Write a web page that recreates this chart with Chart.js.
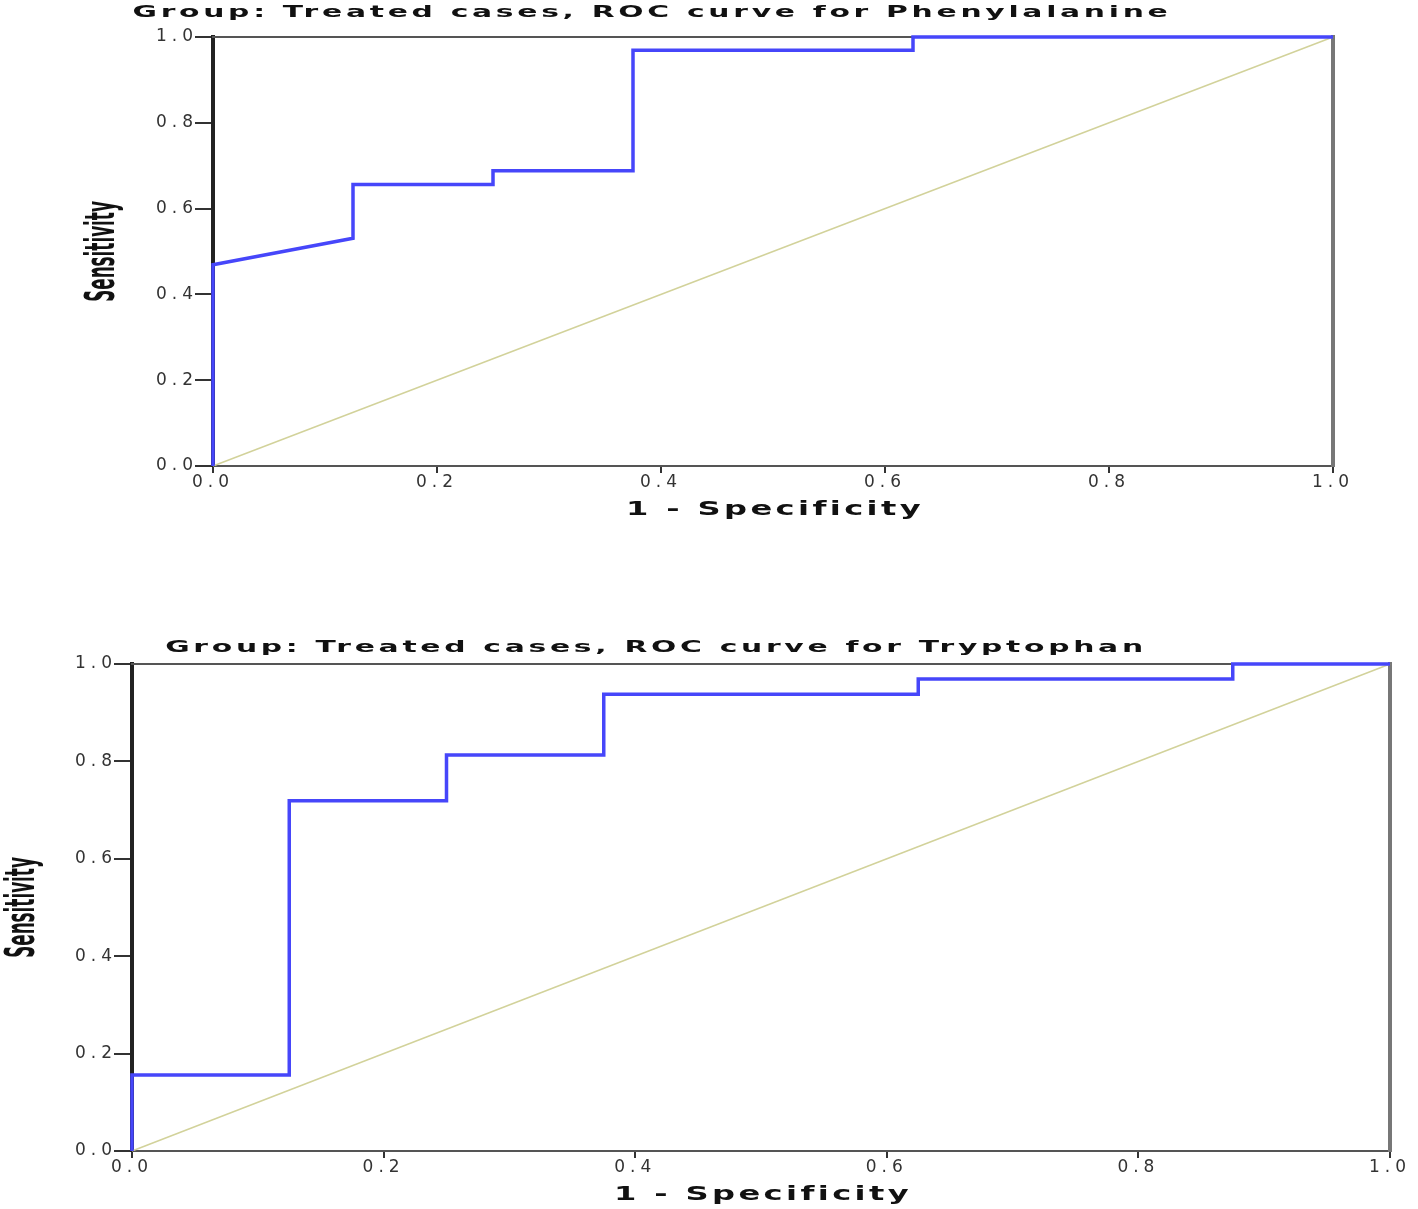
<!DOCTYPE html>
<html>
<head>
<meta charset="utf-8">
<script src="https://cdn.jsdelivr.net/npm/chart.js@4.4.0/dist/chart.umd.min.js"></script>
<style>
  body { margin: 0; background: #fff; }
  .panel { position: absolute; left: 0; }
</style>
</head>
<body>
<div class="panel" style="top:0"><canvas id="rocPhe" width="1418" height="540"></canvas></div>
<div class="panel" style="top:600px"><canvas id="rocTry" width="1418" height="609"></canvas></div>
<script>
// ROC points (1 - specificity, sensitivity)
const pheFpr = [0, 0, 0.125, 0.125, 0.25, 0.25, 0.375, 0.375, 0.625, 0.625, 1];
const pheTpr = [0, 0.469, 0.531, 0.656, 0.656, 0.688, 0.688, 0.969, 0.969, 1, 1];
const tryFpr = [0, 0, 0.125, 0.125, 0.25, 0.25, 0.375, 0.375, 0.625, 0.625, 0.875, 0.875, 1];
const tryTpr = [0, 0.156, 0.156, 0.719, 0.719, 0.813, 0.813, 0.938, 0.938, 0.969, 0.969, 1, 1];
// reference diagonal
const refFpr = [0, 1];
const refTpr = [0, 1];
const axisTicks = [0, 0.2, 0.4, 0.6, 0.8, 1.0];

// SPSS style text: wide stretched titles, narrow tall y label, spaced tick labels
const spssText = {
    id: "spssText",
    beforeDraw(chart) { chart.ctx.letterSpacing = "0px"; },
    beforeDatasetsDraw(chart) { chart.ctx.letterSpacing = "5px"; },
    afterDraw(chart, args, opts) {
        const ctx = chart.ctx;
        const area = chart.chartArea;
        const put = (text, x, y, font, sx, rot, spacing) => {
            ctx.save();
            ctx.letterSpacing = spacing;
            ctx.font = font;
            ctx.fillStyle = "#111";
            ctx.textAlign = "center";
            ctx.textBaseline = "middle";
            ctx.translate(x, y);
            ctx.rotate(rot);
            ctx.scale(sx, 1);
            ctx.fillText(text, 0, 0);
            ctx.restore();
        };
        put(opts.text, opts.x, opts.y, "bold 16px 'DejaVu Sans'", 1.86, 0, "2px");
        put(chart.scales.x.options.title.text, (area.left + area.right) / 2 + 2, opts.xLabelY,
            "bold 19px 'DejaVu Sans'", 1.69, 0, "2px");
        put(chart.scales.y.options.title.text, opts.yLabelX, (area.top + area.bottom) / 2,
            "bold 40px 'DejaVu Sans'", 0.42, -Math.PI / 2, "0px");
    }
};

function points(xs, ys) {
    return xs.map((x, i) => ({ x: x, y: ys[i] }));
}

function makeRoc(id, fpr, tpr, title, g) {
    // top and right edges of the frame
    const frame = (pos) => ({
        type: "linear", position: pos, min: 0, max: 1,
        ticks: { display: false },
        grid: { display: true, drawOnChartArea: false, drawTicks: false, tickLength: 0 },
        border: { color: pos === "top" ? "#555" : "#777", width: pos === "top" ? 2 : 4 },
        afterFit: (s) => { if (pos === "top") s.height = 0; else s.width = 0; }
    });
    new Chart(document.getElementById(id), {
        type: "line",
        data: {
            datasets: [{
                data: points(fpr, tpr),
                borderColor: "rgb(70, 70, 250)",
                borderWidth: 3.5,
                pointRadius: 0,
                clip: false
            }, {
                data: points(refFpr, refTpr),
                borderColor: "#d2d29a",
                borderWidth: 1.5,
                pointRadius: 0,
                clip: false
            }]
        },
        options: {
            responsive: false,
            animation: false,
            layout: { padding: { left: 0, top: g.top, right: g.right, bottom: 0 } },
            plugins: {
                legend: { display: false },
                tooltip: { enabled: false },
                spssText: { text: title, x: g.titleX, y: g.titleY, xLabelY: g.xLabelY, yLabelX: g.yLabelX }
            },
            scales: {
                x: {
                    type: "linear", position: "bottom", min: 0, max: 1,
                    afterBuildTicks: (s) => { s.ticks = axisTicks.map(v => ({ value: v })); },
                    afterFit: (s) => { s.height = g.xHeight; },
                    ticks: {
                        callback: (v) => v.toFixed(1), color: "#333",
                        font: { family: "DejaVu Sans", size: 17 },
                        padding: -1, maxRotation: 0, autoSkip: false, z: 1
                    },
                    grid: { drawOnChartArea: false, tickLength: 7, color: "#333", lineWidth: 2 },
                    border: { color: "#555", width: 2 },
                    title: { display: false, text: "1 - Specificity" }
                },
                y: {
                    type: "linear", position: "left", min: 0, max: 1,
                    afterBuildTicks: (s) => { s.ticks = axisTicks.map(v => ({ value: v })); },
                    afterFit: (s) => { s.width = g.yWidth; },
                    ticks: {
                        callback: (v) => v.toFixed(1), color: "#333",
                        font: { family: "DejaVu Sans", size: 17 },
                        padding: -3, autoSkip: false, z: 1
                    },
                    grid: { drawOnChartArea: false, tickLength: 18, color: "#333", lineWidth: 2 },
                    border: { color: "#222", width: 4 },
                    title: { display: false, text: "Sensitivity" }
                },
                x2: frame("top"),
                y2: frame("right")
            }
        },
        plugins: [spssText]
    });
}

document.addEventListener("DOMContentLoaded", () => {
    makeRoc("rocPhe", pheFpr, pheTpr, "Group: Treated cases, ROC curve for Phenylalanine",
        { top: 37, right: 85, xHeight: 74, yWidth: 213, titleX: 652, titleY: 13, xLabelY: 510, yLabelX: 104 });
    makeRoc("rocTry", tryFpr, tryTpr, "Group: Treated cases, ROC curve for Tryptophan",
        { top: 64, right: 28, xHeight: 58, yWidth: 132, titleX: 656, titleY: 48, xLabelY: 595, yLabelX: 24 });
});
</script>
</body>
</html>
